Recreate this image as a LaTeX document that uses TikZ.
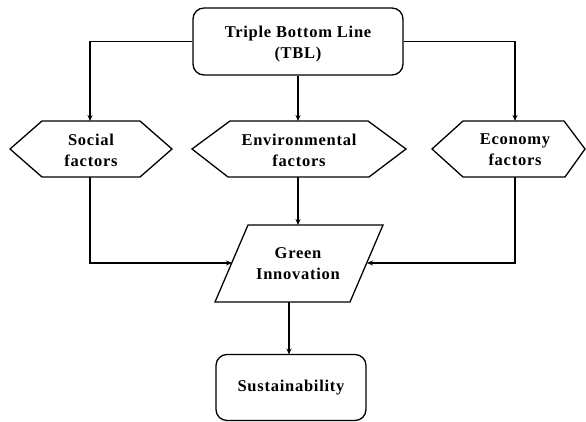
\documentclass[tikz,border=0pt]{standalone}
\usepackage{fontspec}
\setmainfont{Liberation Serif}[LetterSpace=4.5]
\usetikzlibrary{arrows.meta}
\begin{document}
\begin{tikzpicture}[x=1pt,y=-1pt,
  line width=1.3pt,
  txt/.style={font=\bfseries\fontsize{16.5}{21}\selectfont, align=center, inner sep=0pt},
  rbox/.style={txt, draw, rounded corners=11pt, line width=1.3pt},
  conn/.style={-{Stealth[length=6pt,width=5pt]}, line width=1.2pt},
  shp/.style={draw, line width=1.3pt, line join=miter}]
\useasboundingbox (0,0) rectangle (586,422);
% boxes
\node[rbox, minimum width=210pt, minimum height=67pt] (tbl) at (298,41.5) {};
\node[txt] (tbltxt) at (298,44) {Triple Bottom Line\\(TBL)};
\node[rbox, minimum width=150pt, minimum height=66pt] (sus) at (291,387.5) {Sustainability};
% hexagons
\draw[shp] (10,149) -- (42,121) -- (140,121) -- (172,149) -- (140,177) -- (42,177) -- cycle;
\node[txt] (soc) at (91,150) {Social\\factors};
\draw[shp] (192,149) -- (230,121) -- (368,121) -- (406,149) -- (369,177) -- (228,177) -- cycle;
\node[txt] (env) at (299,150) {Environmental\\factors};
\draw[shp] (432,149) -- (463,121) -- (564,121) -- (585,149) -- (565,177) -- (463,177) -- cycle;
\node[txt] (eco) at (515,150) {Economy\\factors};
% parallelogram
\draw[shp] (248,225) -- (383,225) -- (350,302) -- (215,302) -- cycle;
\node[txt] (gi) at (298,264) {Green\\Innovation};
% connector coordinates
\coordinate (socT) at (90,121);
\coordinate (socB) at (90,177);
\coordinate (envT) at (298,121);
\coordinate (envB) at (298,177);
\coordinate (ecoT) at (515,121);
\coordinate (ecoB) at (515,177);
\coordinate (giT) at (298,225);
\coordinate (giL) at (232,263);
\coordinate (giR) at (367,263);
\coordinate (giB) at (289,302);
\coordinate (susT) at (289,354.5);
% connectors
\draw[conn] (tbl.west) -| (socT);
\draw[conn] (tbl.east) -| (ecoT);
\draw[conn] (tbl.south -| envT) -- (envT);
\draw[conn] (envB) -- (giT);
\draw[conn] (socB) |- (giL);
\draw[conn] (ecoB) |- (giR);
\draw[conn] (giB) -- (susT);
\end{tikzpicture}
\end{document}
